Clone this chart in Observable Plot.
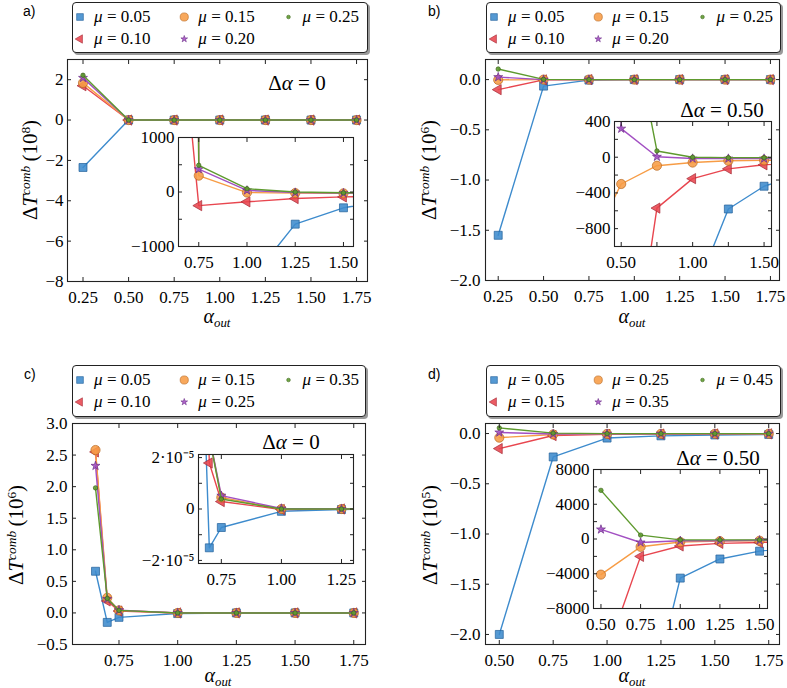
<!DOCTYPE html>
<html>
<head>
<meta charset="utf-8">
<script src="https://cdn.jsdelivr.net/npm/d3@7"></script>
<script src="https://cdn.jsdelivr.net/npm/@observablehq/plot@0.6"></script>
<style>
  body { margin: 0; background: #fff; }
  #root { position: relative; width: 787px; height: 688px; overflow: hidden; font-family: "Liberation Serif", "Times New Roman", serif; color: #000; }
  .yl, .xl, .ann { position: absolute; white-space: nowrap; line-height: 1; font-family: "Liberation Serif", "Times New Roman", serif; font-size: 21px; }
  .yl { transform: translate(-50%, -50%) rotate(-90deg); }
  .xl, .ann { transform: translate(-50%, -50%); }
  .xl { font-size: 20px; }
  .yl sup { font-size: 0.64em; vertical-align: 0.55em; }
  .xl sub { font-size: 0.64em; vertical-align: -0.3em; }
  .plabel { position: absolute; font-family: "Liberation Sans", sans-serif; font-size: 14px; line-height: 1; }
</style>
</head>
<body>
<div id="root"></div>
<script>
// ================= DATA =================
// series order within each panel: blue square, red triangle, orange circle, purple star, green dot
// ---- panel a (Δα = 0), main in units of 10^8, inset raw
const aMu = ["0.05", "0.10", "0.15", "0.20", "0.25"];
const aX = [0.25, 0.5, 0.75, 1.0, 1.25, 1.5, 1.75];
const aMain = [
  [-2.35, 0, 0, 0, 0, 0, 0],
  [1.70, 0, 0, 0, 0, 0, 0],
  [1.84, 0, 0, 0, 0, 0, 0],
  [2.09, 0, 0, 0, 0, 0, 0],
  [2.22, 0, 0, 0, 0, 0, 0]
];
const aInsetX = [0.5, 0.75, 1.0, 1.25, 1.5, 1.75];
const aInset = [
  [-150000, -8000, -1700, -590, -290, -150],
  [9000, -250, -180, -120, -90, -70],
  [150000, 300, -10, -20, -25, -25],
  [150000, 420, 30, -10, -20, -20],
  [150000, 490, 60, 0, -15, -15]
];
const aXTicks = [0.25, 0.5, 0.75, 1.0, 1.25, 1.5, 1.75];
const aYTicks = [-8, -6, -4, -2, 0, 2];
const aInsetXTicks = [0.75, 1.0, 1.25, 1.5];
const aInsetYTicks = [-1000, -500, 0, 500, 1000];
const aInsetYLabels = [-1000, 0, 1000];

// ---- panel b (Δα = 0.50), main in units of 10^6
const bMu = ["0.05", "0.10", "0.15", "0.20", "0.25"];
const bX = [0.25, 0.5, 0.75, 1.0, 1.25, 1.5, 1.75];
const bMain = [
  [-1.55, -0.065, -0.005, 0, 0, 0, 0],
  [-0.10, -0.003, 0, 0, 0, 0, 0],
  [-0.003, 0, 0, 0, 0, 0, 0],
  [0.025, 0, 0, 0, 0, 0, 0],
  [0.105, 0.002, 0, 0, 0, 0, 0]
];
const bInsetX = [0.25, 0.5, 0.75, 1.0, 1.25, 1.5, 1.75];
const bInset = [
  [-1550000, -65000, -5000, -1580, -580, -325, -200],
  [-100000, -3260, -570, -240, -130, -85, -60],
  [-1100, -300, -95, -60, -40, -35, -30],
  [25000, 320, 5, -15, -15, -15, -15],
  [105000, 2130, 70, 0, -5, -5, -5]
];
const bXTicks = [0.25, 0.5, 0.75, 1.0, 1.25, 1.5, 1.75];
const bYTicks = [-2.0, -1.5, -1.0, -0.5, 0.0];
const bInsetXTicks = [0.5, 0.75, 1.0, 1.25, 1.5];
const bInsetXLabels = [0.5, 1.0, 1.5];
const bInsetYTicks = [-1000, -800, -600, -400, -200, 0, 200, 400];
const bInsetYLabels = [-800, -400, 0, 400];

// ---- panel c (Δα = 0), main in units of 10^6
const cMu = ["0.05", "0.10", "0.15", "0.25", "0.35"];
const cX = [0.65, 0.70, 0.75, 1.0, 1.25, 1.5, 1.75];
const cMain = [
  [0.66, -0.15, -0.07, -0.01, 0, 0, 0],
  [2.55, 0.19, 0.03, 0, 0, 0, 0],
  [2.58, 0.24, 0.04, 0, 0, 0, 0],
  [2.33, 0.22, 0.045, 0, 0, 0, 0],
  [1.98, 0.23, 0.04, 0, 0, 0, 0]
];
const cInsetX = [0.65, 0.70, 0.75, 1.0, 1.25, 1.5];
const cInset = [
  [12.4e-5, -1.51e-5, -0.72e-5, -0.09e-5, -0.02e-5, 0],
  [20e-5, 1.79e-5, 0.29e-5, -0.02e-5, 0, 0],
  [20e-5, 2.84e-5, 0.45e-5, 0, 0, 0],
  [18e-5, 2.84e-5, 0.52e-5, 0.02e-5, 0, 0],
  [15e-5, 2.80e-5, 0.39e-5, 0, 0, 0]
];
const cXTicks = [0.75, 1.0, 1.25, 1.5, 1.75];
const cYTicks = [-0.5, 0.0, 0.5, 1.0, 1.5, 2.0, 2.5, 3.0];
const cInsetXTicks = [0.75, 1.0, 1.25];
const cInsetYTicks = [-2e-5, -1e-5, 0, 1e-5, 2e-5];
const cInsetYLabels = [-2e-5, 0, 2e-5];

// ---- panel d (Δα = 0.50), main in units of 10^5
const dMu = ["0.05", "0.15", "0.25", "0.35", "0.45"];
const dX = [0.5, 0.75, 1.0, 1.25, 1.5, 1.75];
const dMain = [
  [-2.0, -0.233, -0.045, -0.023, -0.014, -0.009],
  [-0.15, -0.02, -0.008, -0.005, -0.004, -0.003],
  [-0.041, -0.009, -0.0035, -0.0025, -0.002, -0.0015],
  [0.011, -0.004, -0.002, -0.002, -0.0015, -0.001],
  [0.056, 0.0045, -0.001, -0.001, -0.001, -0.0008]
];
const dInsetX = [0.5, 0.75, 1.0, 1.25, 1.5, 1.75];
const dInset = [
  [-200000, -23300, -4500, -2300, -1400, -900],
  [-15000, -2000, -800, -500, -400, -300],
  [-4100, -900, -350, -250, -200, -150],
  [1100, -400, -200, -200, -150, -100],
  [5600, 450, -100, -100, -100, -80]
];
const dXTicks = [0.5, 0.75, 1.0, 1.25, 1.5, 1.75];
const dYTicks = [-2.0, -1.5, -1.0, -0.5, 0.0];
const dInsetXTicks = [0.5, 0.75, 1.0, 1.25, 1.5];
const dInsetYTicks = [-8000, -6000, -4000, -2000, 0, 2000, 4000, 6000, 8000];
const dInsetYLabels = [-8000, -4000, 0, 4000, 8000];

// ================= STYLE =================
const COLORS = ["#3d8bcd", "#e8464f", "#f79c45", "#a24fc2", "#5e9a2e"];
const EDGES = ["#22609a", "#a52a35", "#b8671f", "#6c2c88", "#3b6619"];
const sq3 = Math.sqrt(3);
const triLeft = {
  draw(ctx, size) {
    const y = -Math.sqrt(size / (sq3 * 3));
    ctx.moveTo(2 * y, 0);
    ctx.lineTo(-y, sq3 * y);
    ctx.lineTo(-y, -sq3 * y);
    ctx.closePath();
  }
};
const SYMBOLS = ["square", triLeft, "circle", "star", "circle"];
const R_MAIN = [4.5, 3.8, 4.6, 2.8, 2.2];
const R_LEG = [3.8, 3.1, 4.1, 2.1, 1.8];

const root = document.getElementById("root");
function put(el, left, top) {
  el.style.position = "absolute";
  el.style.left = left + "px";
  el.style.top = top + "px";
  root.appendChild(el);
  return el;
}
function html(cls, inner, x, y) {
  const d = document.createElement("div");
  d.className = cls;
  d.innerHTML = inner;
  return put(d, x, y);
}

const f1 = d3.format(".1f"), f2 = d3.format(".2f");

function seriesMarks(xs, rows) {
  const marks = [];
  rows.forEach((vals, i) => {
    marks.push(Plot.line(vals, {x: xs, y: d => d, stroke: COLORS[i], strokeWidth: 1.4, clip: true}));
    marks.push(Plot.dot(vals, {x: xs, y: d => d, symbol: SYMBOLS[i], r: R_MAIN[i], fill: COLORS[i], fillOpacity: 0.88, stroke: EDGES[i], strokeWidth: 0.7, clip: true}));
  });
  return marks;
}

function axes(xTicks, xFmt, yTicks, yFmt, yPad) {
  return [
    Plot.axisX(xTicks, {anchor: "bottom", tickSize: -4, tickPadding: 13.5, tickFormat: xFmt, label: null, stroke: "#222"}),
    Plot.axisX(xTicks, {anchor: "top", tickSize: -4, tickFormat: () => "", label: null, stroke: "#222"}),
    Plot.axisY(yTicks, {anchor: "left", tickSize: -4, tickPadding: yPad, tickFormat: yFmt, label: null, stroke: "#222"}),
    Plot.axisY(yTicks, {anchor: "right", tickSize: -4, tickFormat: () => "", label: null, stroke: "#222"})
  ];
}

function styleSvg(svg, transparent) {
  Object.assign(svg.style, {
    fontFamily: '"Liberation Serif", "Times New Roman", serif',
    fontSize: "17px",
    background: transparent ? "transparent" : "white",
    maxWidth: "none",
    overflow: "visible"
  });
  return svg;
}

function drawPlot(spec, isInset) {
  const mL = 70, mR = 10, mT = 10, mB = 40;
  const f = spec.frame;
  const svg = Plot.plot({
    width: (f.r - f.l) + mL + mR,
    height: (f.b - f.t) + mT + mB,
    marginLeft: mL, marginRight: mR, marginTop: mT, marginBottom: mB,
    x: {domain: spec.xDomain},
    y: {domain: spec.yDomain},
    marks: [
      isInset ? Plot.frame({fill: "white", stroke: null}) : null,
      ...seriesMarks(spec.xs, spec.rows),
      Plot.frame({stroke: "#222", strokeWidth: 1.1}),
      ...axes(spec.xTicks, spec.xFmt, spec.yTicks, spec.yFmt, spec.yPad)
    ]
  });
  styleSvg(svg, true);
  put(svg, f.l - mL, f.t - mT);
}

function drawLegend(mus, box) {
  const entries = mus.map((m, i) => ({m, i, col: Math.floor(i / 2), row: i % 2}));
  const svg = Plot.plot({
    width: box.w, height: box.h, margin: 0,
    x: {domain: [0, 2], range: [6.5, 215], axis: null},
    y: {domain: [0, 1], range: [13.5, 35.5], axis: null},
    marks: [
      ...entries.map(e => Plot.dot([e], {x: "col", y: "row", symbol: SYMBOLS[e.i], r: R_LEG[e.i], fill: COLORS[e.i], fillOpacity: 0.88, stroke: EDGES[e.i], strokeWidth: 0.6})),
      Plot.text(entries, {x: "col", y: "row", text: () => "μ", dx: 14, textAnchor: "start", fontStyle: "italic"}),
      Plot.text(entries, {x: "col", y: "row", text: d => "= " + d.m, dx: 27, textAnchor: "start"})
    ]
  });
  styleSvg(svg, false);
  Object.assign(svg.style, {border: "1px solid #222", borderRadius: "4px", boxShadow: "2px 2px 0 #9a9a9a", boxSizing: "content-box"});
  put(svg, box.l, box.t);
}

function yLabel(exp, cx, cy) {
  html("yl", `Δ<i>T</i><sup><i>comb</i></sup>&#8201;(10<sup>${exp}</sup>)`, cx, cy);
}
function xLabel(cx, cy) {
  html("xl", `<i>α</i><sub><i>out</i></sub>`, cx, cy);
}
function annot(txt, cx, cy) {
  html("ann", `Δ<i>α</i> = ${txt}`, cx, cy);
}

const minusFmt = d => d3.format("d")(d);
const cInsetFmt = d => d === 0 ? "0" : (d < 0 ? "−" : "") + "2·10⁻⁵";

// ---------- panel a ----------
html("plabel", "a)", 23, 4);
drawLegend(aMu, {l: 72, t: 2, w: 294, h: 49});
drawPlot({frame: {l: 67, r: 367, t: 59, b: 281}, xDomain: [0.165, 1.81], yDomain: [-8, 3],
  xs: aX, rows: aMain, xTicks: aXTicks, xFmt: f2, yTicks: aYTicks, yFmt: minusFmt, yPad: 8}, false);
drawPlot({frame: {l: 178, r: 353, t: 137, b: 246}, xDomain: [0.645, 1.552], yDomain: [-1000, 1000],
  xs: aInsetX, rows: aInset, xTicks: aInsetXTicks, xFmt: f2, yTicks: aInsetYTicks,
  yFmt: d => aInsetYLabels.includes(d) ? minusFmt(d) : "", yPad: 8}, true);
yLabel(8, 30, 170);
xLabel(217, 318);
annot("0", 297, 83);

// ---------- panel b ----------
html("plabel", "b)", 428, 4);
drawLegend(bMu, {l: 486, t: 2, w: 293, h: 49});
drawPlot({frame: {l: 485, r: 779, t: 59, b: 280}, xDomain: [0.18, 1.80], yDomain: [-2.0, 0.2],
  xs: bX, rows: bMain, xTicks: bXTicks, xFmt: f2, yTicks: bYTicks, yFmt: f1, yPad: 9}, false);
drawPlot({frame: {l: 614, r: 771, t: 121, b: 246}, xDomain: [0.453, 1.552], yDomain: [-1000, 400],
  xs: bInsetX, rows: bInset, xTicks: bInsetXTicks, xFmt: d => bInsetXLabels.includes(d) ? f2(d) : "",
  yTicks: bInsetYTicks, yFmt: d => bInsetYLabels.includes(d) ? minusFmt(d) : "", yPad: 8}, true);
yLabel(6, 429, 170);
xLabel(632, 318);
annot("0.50", 722, 110);

// ---------- panel c ----------
html("plabel", "c)", 24, 367);
drawLegend(cMu, {l: 72, t: 365, w: 292, h: 50});
drawPlot({frame: {l: 72, r: 365, t: 423, b: 644}, xDomain: [0.552, 1.80], yDomain: [-0.5, 3.0],
  xs: cX, rows: cMain, xTicks: cXTicks, xFmt: f2, yTicks: cYTicks, yFmt: f1, yPad: 9}, false);
drawPlot({frame: {l: 198, r: 353, t: 454, b: 563}, xDomain: [0.655, 1.30], yDomain: [-2.12e-5, 2.12e-5],
  xs: cInsetX, rows: cInset, xTicks: cInsetXTicks, xFmt: f2, yTicks: cInsetYTicks,
  yFmt: d => cInsetYLabels.includes(d) ? cInsetFmt(d) : "", yPad: 8}, true);
yLabel(6, 16, 535);
xLabel(218, 677);
annot("0", 291, 442);

// ---------- panel d ----------
html("plabel", "d)", 428, 367);
drawLegend(dMu, {l: 486, t: 365, w: 293, h: 50});
drawPlot({frame: {l: 485, r: 779, t: 423, b: 644}, xDomain: [0.436, 1.80], yDomain: [-2.1, 0.1],
  xs: dX, rows: dMain, xTicks: dXTicks, xFmt: f2, yTicks: dYTicks, yFmt: f1, yPad: 9}, false);
drawPlot({frame: {l: 593, r: 767, t: 469, b: 608}, xDomain: [0.453, 1.55], yDomain: [-8000, 8000],
  xs: dInsetX, rows: dInset, xTicks: dInsetXTicks, xFmt: f2, yTicks: dInsetYTicks,
  yFmt: d => dInsetYLabels.includes(d) ? minusFmt(d) : "", yPad: 8}, true);
yLabel(5, 430, 535);
xLabel(632, 677);
annot("0.50", 718, 458);
</script>
</body>
</html>
